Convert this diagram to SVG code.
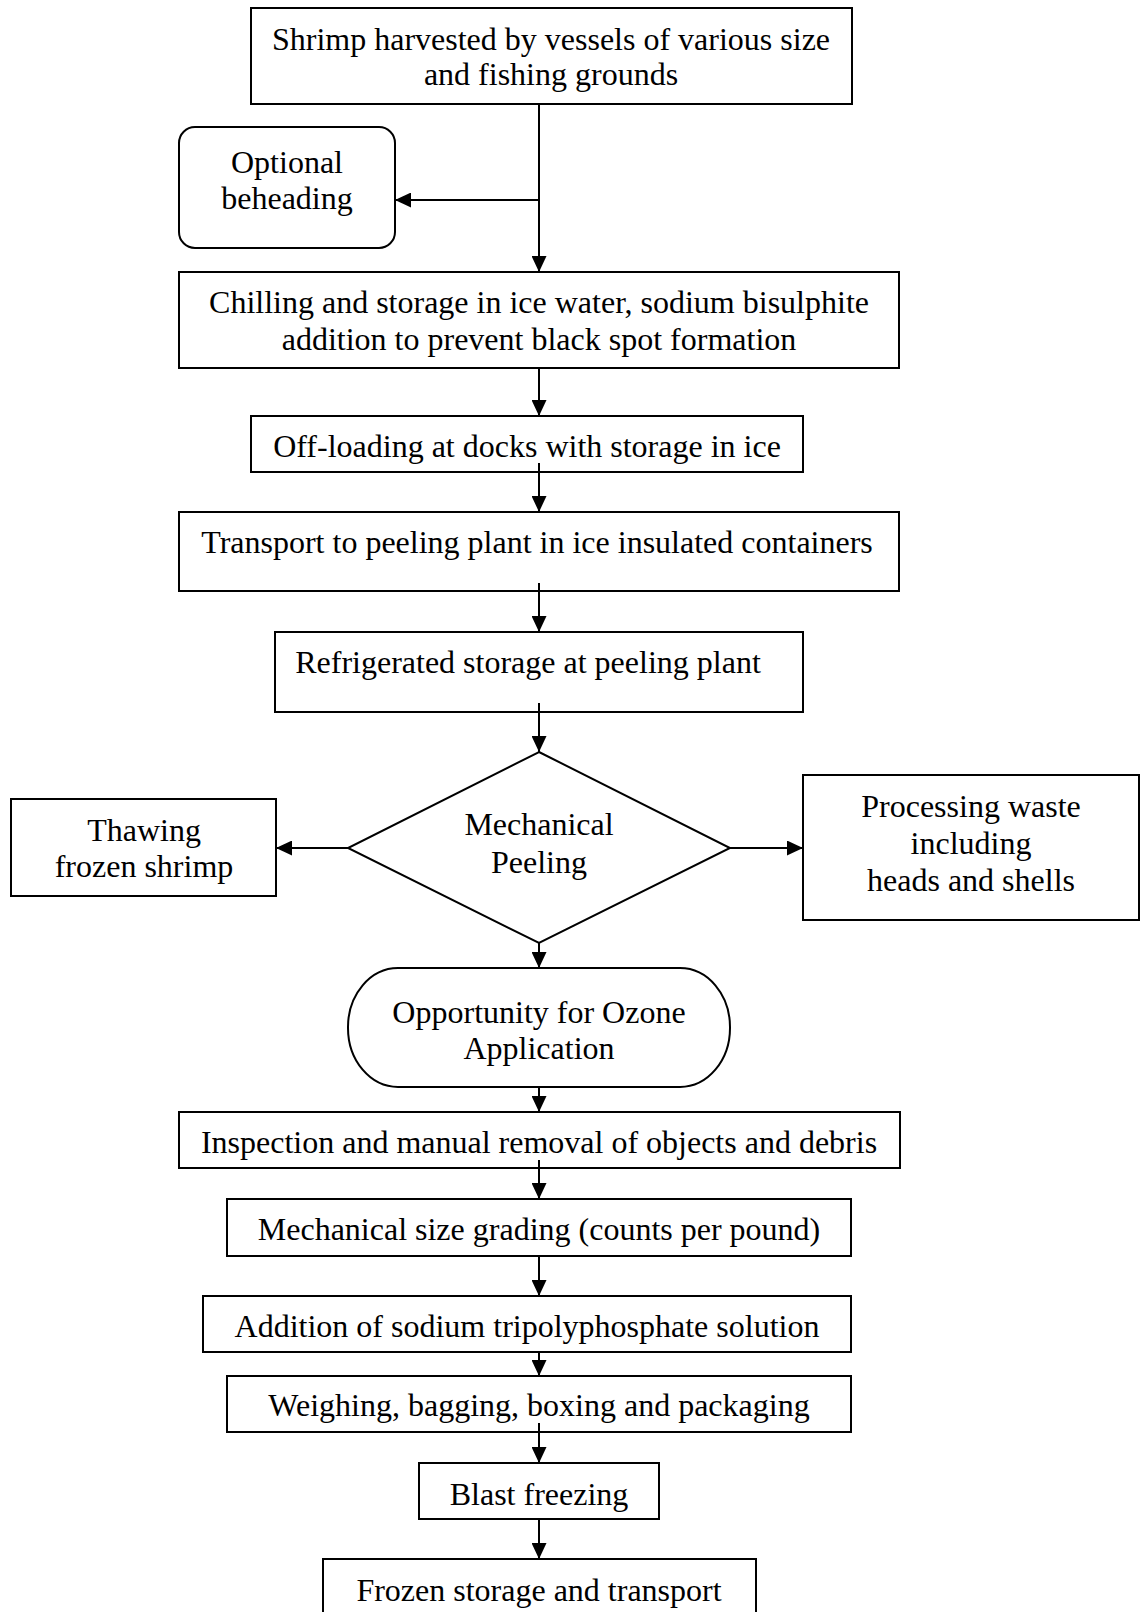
<svg xmlns="http://www.w3.org/2000/svg" width="1143" height="1612" viewBox="0 0 1143 1612">
<style>
.b{fill:#fff;stroke:#000;stroke-width:2}
.t{font-family:"Liberation Serif","Times New Roman",serif;font-size:32px;fill:#000;text-anchor:middle}
.c{stroke:#000;stroke-width:2;fill:none;marker-end:url(#ah)}
</style>
<defs>
<marker id="ah" markerWidth="16" markerHeight="15" refX="16" refY="7.5" orient="auto" markerUnits="userSpaceOnUse">
<path d="M0,0 L16,7.5 L0,15 Z" fill="#000"/>
</marker>
</defs>
<rect width="1143" height="1612" fill="#fff"/>
<g id="n1"><rect class="b" x="251" y="8" width="601" height="96"/>
<text class="t" x="551" y="50">Shrimp harvested by vessels of various size</text>
<text class="t" x="551" y="85">and fishing grounds</text></g>
<g id="n2"><rect class="b" x="179" y="127" width="216" height="121" rx="16"/>
<text class="t" x="287" y="173">Optional</text>
<text class="t" x="287" y="209">beheading</text></g>
<g id="n3"><rect class="b" x="179" y="272" width="720" height="96"/>
<text class="t" x="539" y="313">Chilling and storage in ice water, sodium bisulphite</text>
<text class="t" x="539" y="350">addition to prevent black spot formation</text></g>
<g id="n4"><rect class="b" x="251" y="416" width="552" height="56"/>
<text class="t" x="527" y="457">Off-loading at docks with storage in ice</text></g>
<g id="n5"><rect class="b" x="179" y="512" width="720" height="79"/>
<text class="t" x="537" y="553">Transport to peeling plant in ice insulated containers</text></g>
<g id="n6"><rect class="b" x="275" y="632" width="528" height="80"/>
<text class="t" x="528" y="673">Refrigerated storage at peeling plant</text></g>
<g id="n7"><polygon class="b" points="539,752 730,848 539,943 348,848"/>
<text class="t" x="539" y="835">Mechanical</text>
<text class="t" x="539" y="873">Peeling</text></g>
<g id="n8"><rect class="b" x="11" y="799" width="265" height="97"/>
<text class="t" x="144" y="841">Thawing</text>
<text class="t" x="144" y="877">frozen shrimp</text></g>
<g id="n9"><rect class="b" x="803" y="775" width="336" height="145"/>
<text class="t" x="971" y="817">Processing waste</text>
<text class="t" x="971" y="854">including</text>
<text class="t" x="971" y="891">heads and shells</text></g>
<g id="n10"><rect class="b" x="348" y="968" width="382" height="119" rx="50" ry="59"/>
<text class="t" x="539" y="1023">Opportunity for Ozone</text>
<text class="t" x="539" y="1059">Application</text></g>
<g id="n11"><rect class="b" x="179" y="1112" width="721" height="56"/>
<text class="t" x="539" y="1153">Inspection and manual removal of objects and debris</text></g>
<g id="n12"><rect class="b" x="227" y="1199" width="624" height="57"/>
<text class="t" x="539" y="1240">Mechanical size grading (counts per pound)</text></g>
<g id="n13"><rect class="b" x="203" y="1296" width="648" height="56"/>
<text class="t" x="527" y="1337">Addition of sodium tripolyphosphate solution</text></g>
<g id="n14"><rect class="b" x="227" y="1376" width="624" height="56"/>
<text class="t" x="539" y="1416">Weighing, bagging, boxing and packaging</text></g>
<g id="n15"><rect class="b" x="419" y="1463" width="240" height="56"/>
<text class="t" x="539" y="1505">Blast freezing</text></g>
<g id="n16"><rect class="b" x="323" y="1559" width="433" height="80"/>
<text class="t" x="539" y="1601">Frozen storage and transport</text></g>
<g id="connectors">
<line class="c" x1="539" y1="104" x2="539" y2="272"/>
<line class="c" x1="539" y1="200" x2="395" y2="200"/>
<line class="c" x1="539" y1="368" x2="539" y2="416"/>
<line class="c" x1="539" y1="463" x2="539" y2="512"/>
<line class="c" x1="539" y1="583" x2="539" y2="632"/>
<line class="c" x1="539" y1="703" x2="539" y2="752"/>
<line class="c" x1="348" y1="848" x2="276" y2="848"/>
<line class="c" x1="730" y1="848" x2="803" y2="848"/>
<line class="c" x1="539" y1="943" x2="539" y2="968"/>
<line class="c" x1="539" y1="1087" x2="539" y2="1112"/>
<line class="c" x1="539" y1="1160" x2="539" y2="1199"/>
<line class="c" x1="539" y1="1256" x2="539" y2="1296"/>
<line class="c" x1="539" y1="1352" x2="539" y2="1376"/>
<line class="c" x1="539" y1="1423" x2="539" y2="1463"/>
<line class="c" x1="539" y1="1519" x2="539" y2="1559"/>
</g>
</svg>
